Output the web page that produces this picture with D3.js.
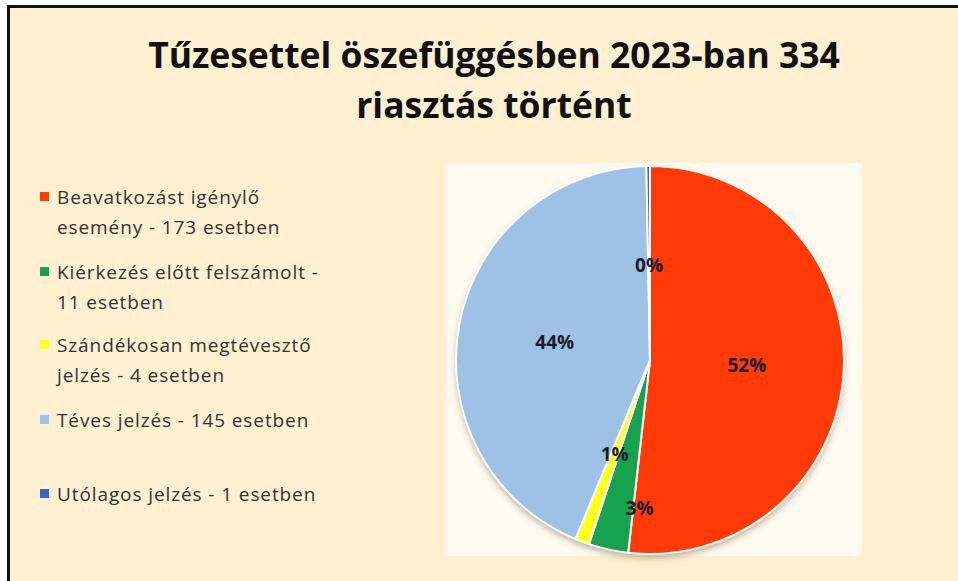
<!DOCTYPE html>
<html lang="hu">
<head>
<meta charset="UTF-8" />
<title>Tűzesettel öszefüggésben</title>
<style>
  body { margin: 0; background: #fff; }
  text { font-family: "Open Sans", "Noto Sans", sans-serif; }
</style>
</head>
<body>
<script src="https://cdn.jsdelivr.net/npm/d3@7"></script>
<div id="app"></div>
<script>
// Adatok
const categories = [
  "Beavatkozást igénylő esemény - 173 esetben",
  "Kiérkezés előtt felszámolt - 11 esetben",
  "Szándékosan megtévesztő jelzés - 4 esetben",
  "Téves jelzés - 145 esetben",
  "Utólagos jelzés - 1 esetben"
];
const legendLines = [
  ["Beavatkozást igénylő", "esemény - 173 esetben"],
  ["Kiérkezés előtt felszámolt -", "11 esetben"],
  ["Szándékosan megtévesztő", "jelzés - 4 esetben"],
  ["Téves jelzés - 145 esetben"],
  ["Utólagos jelzés - 1 esetben"]
];
const values = [173, 11, 4, 145, 1];
const titleLines = ["Tűzesettel öszefüggésben 2023-ban 334", "riasztás történt"];

const colors = ["#ff3a06", "#16a24e", "#ffff1a", "#9dc2e6", "#3a64c8"];

// százalékok 100-ra kerekítve (legnagyobb maradék)
const total = d3.sum(values);
const raw = values.map(v => v / total * 100);
const pct = raw.map(Math.floor);
let rest = 100 - d3.sum(pct);
raw.map((v, i) => [v - Math.floor(v), i])
  .sort((a, b) => b[0] - a[0])
  .slice(0, rest)
  .forEach(([, i]) => pct[i] += 1);

// Vászon
const W = 958, H = 581;
const svg = d3.select("#app").append("svg")
  .attr("width", W).attr("height", H);

const defs = svg.append("defs");
const shadow = defs.append("filter").attr("id", "shadow")
  .attr("x", "-20%").attr("y", "-20%").attr("width", "140%").attr("height", "140%");
shadow.append("feDropShadow")
  .attr("dx", 0).attr("dy", 4).attr("stdDeviation", 3)
  .attr("flood-color", "#6b5a3a").attr("flood-opacity", 0.45);

// háttér + keret (bal és felső)
svg.append("rect").attr("x", 8).attr("y", 6).attr("width", W - 8).attr("height", H - 6)
  .attr("fill", "#fef0d1");
svg.append("line").attr("x1", 8.5).attr("x2", 8.5).attr("y1", 5).attr("y2", H)
  .attr("stroke", "#111").attr("stroke-width", 3);
svg.append("line").attr("x1", 7).attr("x2", W).attr("y1", 6.5).attr("y2", 6.5)
  .attr("stroke", "#111").attr("stroke-width", 3);

// Cím
const title = svg.append("g");
titleLines.forEach((t, i) => {
  title.append("text")
    .attr("x", 494).attr("y", 68 + i * 50)
    .attr("text-anchor", "middle")
    .attr("font-size", 35).attr("font-weight", 700)
    .attr("fill", "#111")
    .text(t);
});
// szélesség igazítása
const t0 = title.select("text").node();
const scaleF = 692 / t0.getComputedTextLength();
title.selectAll("text").attr("font-size", 35 * Math.min(Math.max(scaleF, 0.7), 1.3));

// Rajzterület
svg.append("rect").attr("x", 446).attr("y", 163).attr("width", 416).attr("height", 393)
  .attr("fill", "#fffaf0");

// Torta
const cx = 650, cy = 360, r = 194;
const pie = d3.pie().sort(null).value(d => d);
const arcs = pie(values);
const arc = d3.arc().innerRadius(0).outerRadius(r);
const g = svg.append("g").attr("transform", `translate(${cx},${cy})`);

g.append("circle").attr("r", r).attr("fill", "#fff").attr("filter", "url(#shadow)");
g.selectAll("path.slice")
  .data(arcs)
  .enter()
  .append("path")
  .attr("class", "slice")
  .attr("d", arc)
  .attr("fill", (d, i) => colors[i])
  .attr("stroke", "#fff")
  .attr("stroke-width", 2)
  .attr("stroke-linejoin", "round");

// Címkék
const labelR = [0.5, 0.78, 0.52, 0.5, 0.49];
const labelNudge = [[0, 0], [22, 0], [0, 0], [0, 0], [0, 0]];
g.selectAll("text.lbl")
  .data(arcs)
  .enter()
  .append("text")
  .attr("class", "lbl")
  .attr("transform", (d, i) => {
    const c = d3.arc().innerRadius(0).outerRadius(2 * r * labelR[i]).centroid(d);
    return `translate(${c[0] + labelNudge[i][0]},${c[1] + labelNudge[i][1]})`;
  })
  .attr("text-anchor", "middle")
  .attr("dy", "0.36em")
  .attr("font-size", 19).attr("font-weight", 700)
  .attr("fill", "#1b1b2b")
  .text((d, i) => pct[i] + "%");

// Jelmagyarázat
const legendY = [197, 272, 345, 420, 494];
const legend = svg.append("g");
legendLines.forEach((lines, i) => {
  legend.append("rect")
    .attr("x", 40).attr("y", legendY[i] - 5).attr("width", 9).attr("height", 9)
    .attr("fill", colors[i]);
  lines.forEach((ln, j) => {
    legend.append("text")
      .attr("x", 57).attr("y", legendY[i] + j * 30)
      .attr("dy", "0.35em")
      .attr("font-size", 19)
      .attr("letter-spacing", 0.9)
      .attr("fill", "#333")
      .text(ln);
  });
});
</script>
</body>
</html>
